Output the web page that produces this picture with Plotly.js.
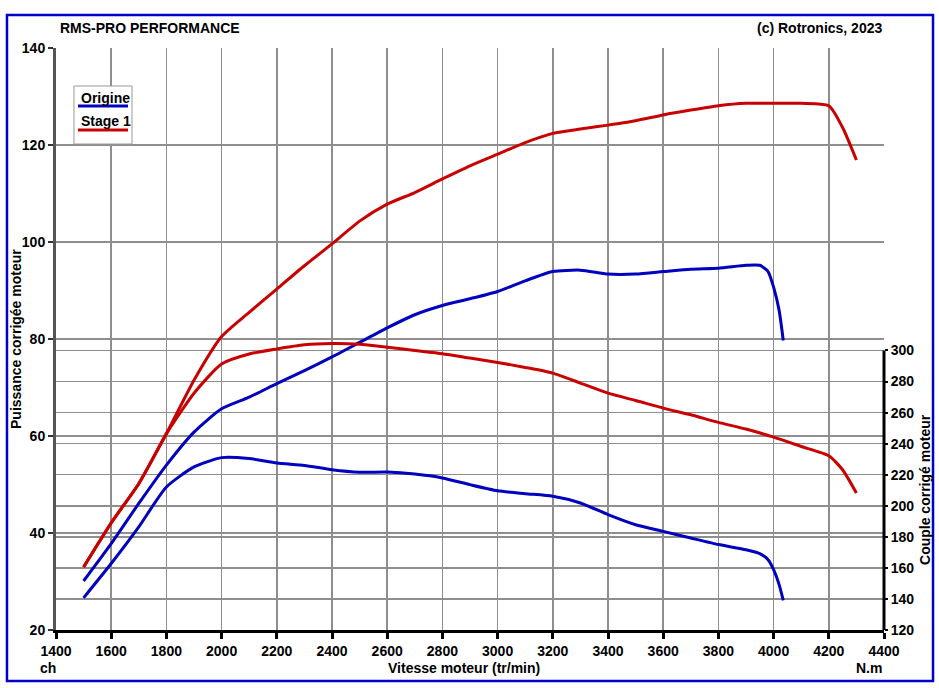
<!DOCTYPE html>
<html>
<head>
<meta charset="utf-8">
<script src="https://cdn.plot.ly/plotly-3.0.1.min.js"></script>
<style>
  html, body { margin: 0; padding: 0; background: #fff; }
  #chart { width: 939px; height: 688px; }
</style>
</head>
<body>
<div id="chart"></div>
<script>
// engine speed (tr/min) for each run
const rpmOrigine = [1500, 1600, 1700, 1800, 1900, 2000, 2100, 2200, 2300, 2400, 2500, 2600, 2700, 2800, 2900,
    3000, 3100, 3200, 3300, 3400, 3500, 3600, 3700, 3800, 3900, 3950, 3980, 4000, 4020, 4035];
const rpmStage1 = [1500, 1600, 1700, 1800, 1900, 2000, 2100, 2200, 2300, 2400, 2500, 2600, 2700, 2800, 2900,
    3000, 3100, 3200, 3300, 3400, 3500, 3600, 3700, 3800, 3900, 4000, 4100, 4200, 4250, 4300];

// power (ch)
const powerOrigine = [30.1, 37.8, 46.1, 54.0, 60.8, 65.6, 68.0, 70.8, 73.5, 76.3, 79.3, 82.3, 85.0, 86.9, 88.3,
    89.8, 92.0, 93.9, 94.2, 93.4, 93.4, 93.9, 94.4, 94.6, 95.2, 95.2, 93.9, 90.7, 85.9, 79.7];
const powerStage1 = [33.0, 42.1, 50.2, 60.5, 71.5, 80.5, 85.5, 90.3, 95.1, 99.6, 104.3, 107.8, 110.2, 113.0, 115.7,
    118.1, 120.5, 122.4, 123.3, 124.1, 125.0, 126.2, 127.2, 128.1, 128.6, 128.6, 128.6, 128.1, 123.6, 116.9];

// torque (N.m)
const torqueOrigine = [140.7, 162.8, 186.4, 212.1, 225.0, 231.0, 230.4, 227.5, 226.0, 223.2, 221.6, 221.7, 220.4, 217.9, 213.6,
    209.7, 207.8, 206.1, 201.8, 194.3, 187.8, 183.5, 179.2, 175.0, 171.7, 169.2, 165.3, 158.9, 149.2, 139.1];
const torqueStage1 = [160.5, 188.9, 214.2, 246.3, 272.5, 291.3, 297.7, 301.0, 303.7, 304.5, 304.0, 302.1, 300.0, 297.9, 295.1,
    292.3, 289.1, 285.4, 279.0, 272.5, 267.8, 262.9, 258.6, 253.7, 249.4, 244.2, 238.2, 232.2, 223.2, 208.2];

const seriesNames = ['Origine', 'Stage 1'];
const torqueTicks = [120, 140, 160, 180, 200, 220, 240, 260, 280, 300];

const BLUE = '#0000BE';
const RED = '#C80000';
const GRID = '#8e8e8e';
const FONT = 'Arial, "Liberation Sans", sans-serif';

function curve(x, y, name, color, axis) {
    return {
        x: x, y: y, name: name, yaxis: axis,
        type: 'scatter', mode: 'lines',
        line: { color: color, width: 3, shape: 'spline', smoothing: 0.6 },
        showlegend: false, hoverinfo: 'skip'
    };
}

const traces = [
    curve(rpmOrigine, powerOrigine, seriesNames[0], BLUE, 'y'),
    curve(rpmStage1, powerStage1, seriesNames[1], RED, 'y'),
    curve(rpmOrigine, torqueOrigine, seriesNames[0], BLUE, 'y2'),
    curve(rpmStage1, torqueStage1, seriesNames[1], RED, 'y2')
];

const boldFont = { family: FONT, size: 14, color: '#000', weight: 'bold' };

const layout = {
    width: 939, height: 688,
    margin: { l: 56, r: 55, t: 48, b: 58 },
    paper_bgcolor: '#fff', plot_bgcolor: '#fff',
    font: { family: FONT },
    xaxis: {
        range: [1400, 4400], dtick: 200, tick0: 1400,
        showgrid: true, gridcolor: GRID, gridwidth: 1.5,
        zeroline: false,
        showline: true, linecolor: '#000', linewidth: 3,
        ticks: 'outside', ticklen: 6, tickwidth: 3, tickcolor: '#000',
        tickfont: boldFont
    },
    yaxis: {
        range: [20, 140], dtick: 20, tick0: 20,
        showgrid: true, gridcolor: GRID, gridwidth: 1.5,
        zeroline: false,
        showline: true, linecolor: '#555', linewidth: 3,
        ticks: 'outside', ticklen: 5, tickwidth: 2, tickcolor: '#333',
        tickfont: boldFont
    },
    yaxis2: {
        overlaying: 'y', side: 'right', anchor: 'x',
        range: [120, 494.8],
        tickmode: 'array', tickvals: torqueTicks,
        showgrid: true, gridcolor: GRID, gridwidth: 1.5,
        zeroline: false, showline: false,
        ticks: 'outside', ticklen: 3, tickwidth: 2, tickcolor: '#000',
        tickfont: boldFont
    },
    shapes: [
        // outer frame
        { type: 'rect', xref: 'paper', yref: 'paper', x0: -0.0592, x1: 1.0592, y0: -0.0876, y1: 1.0567,
          line: { color: '#0000CC', width: 2.5 }, layer: 'above' },
        // right axis line (torque scale)
        { type: 'line', xref: 'paper', yref: 'y2', x0: 1, x1: 1, y0: 120, y1: 300,
          line: { color: '#000', width: 3 }, layer: 'above' },
        // legend box
        { type: 'rect', xref: 'paper', yref: 'paper', x0: 0.0217, x1: 0.0918, y0: 0.835, y1: 0.9347,
          fillcolor: '#fff', line: { color: '#999', width: 1 }, layer: 'above' },
        { type: 'line', xref: 'paper', yref: 'paper', x0: 0.0266, x1: 0.0870, y0: 0.9003, y1: 0.9003,
          line: { color: BLUE, width: 3 }, layer: 'above' },
        { type: 'line', xref: 'paper', yref: 'paper', x0: 0.0266, x1: 0.0870, y0: 0.8591, y1: 0.8591,
          line: { color: RED, width: 3 }, layer: 'above' }
    ],
    annotations: [
        { text: 'RMS-PRO PERFORMANCE', xref: 'paper', yref: 'paper', x: 0.0024, y: 1.0344,
          xanchor: 'left', yanchor: 'middle', showarrow: false, font: boldFont },
        { text: '(c) Rotronics, 2023', xref: 'paper', yref: 'paper', x: 1.0, y: 1.0344,
          xanchor: 'right', yanchor: 'middle', showarrow: false, font: boldFont },
        { text: 'Puissance corrigée moteur', xref: 'paper', yref: 'paper', x: -0.0483, y: 0.5,
          xanchor: 'center', yanchor: 'middle', textangle: -90, showarrow: false, font: boldFont },
        { text: 'Couple corrigé moteur', xref: 'paper', yref: 'paper', x: 1.0495, y: 0.2423,
          xanchor: 'center', yanchor: 'middle', textangle: -90, showarrow: false, font: boldFont },
        { text: 'ch', xref: 'paper', yref: 'paper', x: -0.0097, y: -0.0653,
          xanchor: 'center', yanchor: 'middle', showarrow: false, font: boldFont },
        { text: 'Vitesse moteur (tr/min)', xref: 'paper', yref: 'paper', x: 0.4928, y: -0.0653,
          xanchor: 'center', yanchor: 'middle', showarrow: false, font: boldFont },
        { text: 'N.m', xref: 'paper', yref: 'paper', x: 0.9815, y: -0.0653,
          xanchor: 'center', yanchor: 'middle', showarrow: false, font: boldFont },
        { text: seriesNames[0], xref: 'paper', yref: 'paper', x: 0.0278, y: 0.914,
          xanchor: 'left', yanchor: 'middle', showarrow: false, font: boldFont },
        { text: seriesNames[1], xref: 'paper', yref: 'paper', x: 0.0278, y: 0.8746,
          xanchor: 'left', yanchor: 'middle', showarrow: false, font: boldFont }
    ]
};

Plotly.newPlot('chart', traces, layout, { displayModeBar: false, staticPlot: true });
</script>
</body>
</html>
